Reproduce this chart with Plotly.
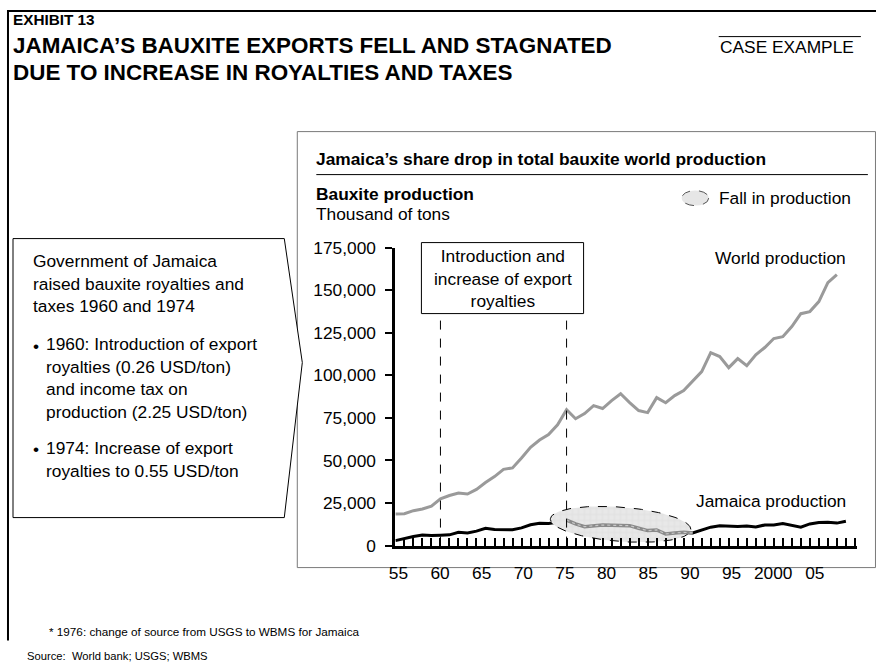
import numpy as np
import plotly.graph_objects as go

# ---------------- data ----------------
years = list(range(1955, 2006))
world_years = list(range(1955, 2005))
world_production = [18600, 18700, 20500, 21500, 23100, 27400, 29400, 30900, 30300, 33000,
                    37000, 40500, 44800, 45600, 51500, 57700, 62000, 65200, 70900, 79800,
                    74500, 77500, 82200, 80500, 85100, 89200, 84000, 79300, 78100, 86900,
                    83900, 88100, 91000, 96300, 102200, 113300, 111000, 104500, 109800, 105700,
                    112100, 116300, 121600, 122700, 128600, 136200, 137400, 143300, 154400, 159100]
jamaica_production = [2900, 4200, 5300, 6200, 5900, 6100, 6300, 7800, 7400, 8500,
                      10200, 9400, 9300, 9300, 10400, 12200, 13100, 13000, 13700, 15000,
                      12700, 11100, 11700, 12100, 11900, 12000, 11700, 10200, 8800, 9200,
                      6800, 7400, 7800, 7400, 9000, 10800, 11700, 11400, 11200, 11500,
                      10900, 12100, 12100, 12900, 11700, 10800, 12700, 13500, 13700, 13200, 14300]
fall_start, fall_end = 1974, 1988
event_years = [1960, 1974]
y_tick_values = [0, 25000, 50000, 75000, 100000, 125000, 150000, 175000]
x_label_years = [1955, 1960, 1965, 1970, 1975, 1980, 1985, 1990, 1995, 2000, 2005]
x_label_text = ["55", "60", "65", "70", "75", "80", "85", "90", "95", "2000", "05"]

# ellipse ("fall in production") parameters in data units
ell_cx, ell_cy, ell_a, ell_b, ell_shear = 1980.0, 12500, 7.8, 10100, -388

W, H = 876, 666
FONT = "Arial, Liberation Sans, sans-serif"
# compensation for the page offset / scaling seen in the rendered screenshot
OX, SX, OY, SY = 7.0, 0.991, 9.4, 0.970
FS = 1.02


def X(x):
    return min(max((x - OX) / SX / W, 0), 1)


def Y(y):
    return min(max(1 - (y - OY) / SY / H, 0), 1)


fig = go.Figure()

fig.add_trace(go.Scatter(x=world_years, y=world_production, mode="lines",
                         line=dict(color="#9a9a9a", width=3), hoverinfo="skip"))
fig.add_trace(go.Scatter(x=years, y=jamaica_production, mode="lines",
                         line=dict(color="black", width=3), hoverinfo="skip"))

t = np.linspace(0, 2 * np.pi, 120)
ex = ell_cx + ell_a * np.cos(t)
ey = ell_cy + ell_b * np.sin(t) + ell_shear * ell_a * np.cos(t)
fig.add_trace(go.Scatter(x=ex, y=ey, mode="lines", fill="toself",
                         fillcolor="#e8e8e8",
                         fillpattern=dict(shape="+", size=6, solidity=0.12,
                                          fgcolor="#c4c4c4", bgcolor="#e8e8e8"),
                         line=dict(color="black", width=1, dash="dash"),
                         hoverinfo="skip"))

i0, i1 = years.index(fall_start), years.index(fall_end) + 1
fig.add_trace(go.Scatter(x=years[i0:i1], y=jamaica_production[i0:i1], mode="lines",
                         line=dict(color="#8a8a8a", width=3.5), hoverinfo="skip"))
fig.add_trace(go.Scatter(x=years[i0:i1], y=jamaica_production[i0:i1], mode="lines",
                         line=dict(color="#c8c8c8", width=1.2, dash="dot"), hoverinfo="skip"))

fig.add_trace(go.Scatter(x=[1960], y=[0], xaxis="x2", yaxis="y", mode="markers",
                         marker=dict(opacity=0), hoverinfo="skip"))

x_dom = [X(395), X(856)]
fig.update_layout(
    width=W, height=H,
    margin=dict(l=0, r=0, t=0, b=0),
    paper_bgcolor="white", plot_bgcolor="rgba(0,0,0,0)",
    showlegend=False,
    font=dict(family=FONT, size=17, color="black"),
    xaxis=dict(domain=x_dom, range=[1955, 2006.22], showticklabels=False,
               ticks="inside", tick0=1955, dtick=1, ticklen=8, tickwidth=2,
               tickcolor="black", showline=True, linewidth=3, linecolor="black",
               showgrid=False, zeroline=False, anchor="y"),
    xaxis2=dict(overlaying="x", anchor="y", side="bottom",
                range=[1954.64, 2010.05], tickmode="array",
                tickvals=x_label_years, ticktext=x_label_text,
                ticks="", showline=False, showgrid=False, zeroline=False,
                ticklabelstandoff=15, tickfont=dict(size=17 * FS, family=FONT)),
    yaxis=dict(domain=[Y(545), Y(247)], range=[0, 175000], tickmode="array",
               tickvals=y_tick_values, tickformat=",", ticks="outside",
               ticklen=7, tickwidth=2, tickcolor="black", showline=True,
               linewidth=3, linecolor="black", showgrid=False, zeroline=False,
               ticklabelstandoff=6, tickfont=dict(size=17 * FS, family=FONT)),
)

shapes = []
shapes.append(dict(type="line", xref="paper", yref="paper", x0=0, x1=1, y0=1 - 1 / H, y1=1 - 1 / H,
                   line=dict(color="black", width=2)))
shapes.append(dict(type="line", xref="paper", yref="paper", x0=1 / W, x1=1 / W, y0=Y(640), y1=1,
                   line=dict(color="black", width=2)))
shapes.append(dict(type="rect", xref="paper", yref="paper", x0=X(297), x1=0.9994,
                   y0=Y(567), y1=Y(131), line=dict(color="#7a7a7a", width=1), layer="below"))
shapes.append(dict(type="line", xref="paper", yref="paper", x0=X(316), x1=X(867),
                   y0=Y(174), y1=Y(174), line=dict(color="black", width=1)))
shapes.append(dict(type="line", xref="paper", yref="paper", x0=X(718), x1=X(860),
                   y0=Y(36), y1=Y(36), line=dict(color="black", width=1)))
path = "M {a},{b} L {c},{b} L {d},{e} L {c},{f} L {a},{f} Z".format(
    a=X(13), b=Y(238), c=X(284), d=X(302), e=Y(362), f=Y(517))
shapes.append(dict(type="path", xref="paper", yref="paper", path=path,
                   line=dict(color="black", width=1), fillcolor="white", layer="below"))
shapes.append(dict(type="rect", xref="paper", yref="paper", x0=X(421), x1=X(583),
                   y0=Y(313), y1=Y(242), line=dict(color="black", width=1), fillcolor="white"))
for ev in event_years:
    shapes.append(dict(type="line", xref="x", yref="paper", x0=ev, x1=ev,
                       y0=Y(545), y1=Y(313), line=dict(color="black", width=1, dash="dash")))
shapes.append(dict(type="circle", xref="paper", yref="paper", x0=X(681), x1=X(708),
                   y0=Y(205), y1=Y(190), fillcolor="#e6e6e6",
                   line=dict(color="#555", width=1, dash="dash")))
fig.update_layout(shapes=shapes)

ann = []


def text(x, y, s, size=17, bold=False, anchor="left", align="left"):
    if bold:
        s = "<b>" + s + "</b>"
    ann.append(dict(x=X(x), y=Y(y), xref="paper", yref="paper", text=s, showarrow=False,
                    xanchor=anchor, yanchor="middle", align=align,
                    font=dict(size=size * FS, family=FONT, color="black")))


text(11, 19, "EXHIBIT 13", size=15, bold=True)
text(11, 45, "JAMAICA’S BAUXITE EXPORTS FELL AND STAGNATED", size=22, bold=True)
text(11, 72, "DUE TO INCREASE IN ROYALTIES AND TAXES", size=22, bold=True)
text(717, 46, "CASE EXAMPLE", size=17)
text(314, 158, "Jamaica’s share drop in total bauxite world production", size=17, bold=True)
text(314, 193, "Bauxite production", size=17, bold=True)
text(314, 213, "Thousand of tons", size=17)
text(716, 197, "Fall in production", size=17)
text(847, 257, "World production", size=17, anchor="right")
text(847, 500, "Jamaica production", size=17, anchor="right")
text(502, 278, "Introduction and<br>increase of export<br>royalties", size=17, anchor="center",
     align="center")
text(31, 283, "Government of Jamaica<br>raised bauxite royalties and<br>taxes 1960 and 1974", size=17)
text(31, 345, "•", size=17)
text(44, 377, "1960: Introduction of export<br>royalties (0.26 USD/ton)<br>and income tax on<br>"
              "production (2.25 USD/ton)", size=17)
text(31, 448, "•", size=17)
text(44, 458.5, "1974: Increase of export<br>royalties to 0.55 USD/ton", size=17)
text(47, 631, "* 1976: change of source from USGS to WBMS for Jamaica", size=11.5)
text(25, 657, "Source:  World bank; USGS; WBMS", size=11)
fig.update_layout(annotations=ann)

page_css = ("html,body{margin:0;padding:0;overflow:hidden;}"
            ".plotly-graph-div{position:absolute;top:0;left:0;}")
fig.write_html("out.html",
               config={"displayModeBar": False},
               post_script="var s=document.createElement('style');"
                           "s.innerHTML='" + page_css + "';"
                           "document.head.appendChild(s);")
